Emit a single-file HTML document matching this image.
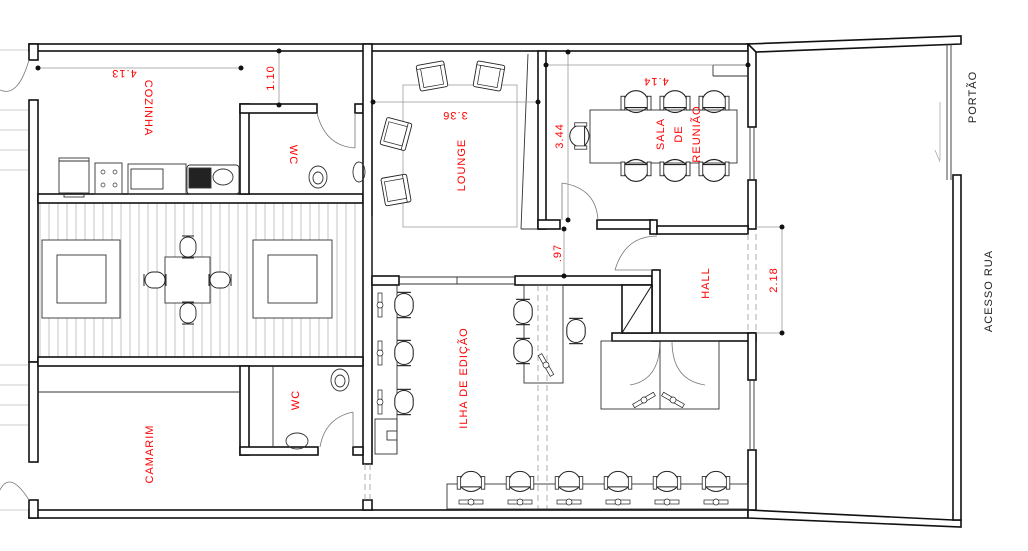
<!DOCTYPE html>
<html><head><meta charset="utf-8"><style>
html,body{margin:0;padding:0;background:#fff}
svg{display:block}
.r{fill:#f00;font-family:"Liberation Sans",sans-serif;font-size:11px;letter-spacing:1px}
.k{fill:#222;font-family:"Liberation Sans",sans-serif;font-size:11px;letter-spacing:1px}
</style></head><body>
<svg width="1028" height="551" viewBox="0 0 1028 551" xmlns="http://www.w3.org/2000/svg">
<defs>
<pattern id="st" width="9" height="10" patternUnits="userSpaceOnUse"><line x1="4" y1="0" x2="4" y2="10" stroke="#c4c4c4" stroke-width="1"/></pattern>
<g id="ch"><rect x="-8" y="-10" width="16" height="20" rx="8" fill="#fff" stroke="#222" stroke-width="0.9"/><line x1="-6" y1="-11" x2="6" y2="-11" stroke="#222"/><line x1="-6" y1="11" x2="6" y2="11" stroke="#222"/></g>
<g id="ch2"><path d="M-10,6 C-12,-12 12,-12 10,6 Z" fill="#fff" stroke="#222" stroke-width="0.9"/><rect x="-12" y="-3" width="3" height="11" fill="#fff" stroke="#222" stroke-width="0.7"/><rect x="9" y="-3" width="3" height="11" fill="#fff" stroke="#222" stroke-width="0.7"/><path d="M-9,6 Q0,14 9,6" fill="none" stroke="#222" stroke-width="0.9"/></g>
<g id="arm"><rect x="-14" y="-13" width="28" height="26" rx="2" fill="#fff" stroke="#222" stroke-width="0.9"/><rect x="-10" y="-9" width="20" height="19" fill="none" stroke="#222" stroke-width="0.7"/><line x1="-14" y1="-9" x2="14" y2="-9" stroke="#222" stroke-width="0.7"/></g>
<g id="mn"><rect x="-12" y="-2" width="24" height="4" fill="#fff" stroke="#222" stroke-width="0.7"/><circle cx="0" cy="0" r="3" fill="#fff" stroke="#222" stroke-width="0.7"/></g>
</defs>

<g stroke="#ccc" stroke-width="1">
<line x1="0" y1="50" x2="28" y2="50"/><line x1="0" y1="110" x2="28" y2="110"/><line x1="0" y1="130" x2="28" y2="130"/><line x1="0" y1="150" x2="28" y2="150"/><line x1="0" y1="170" x2="28" y2="170"/>
<line x1="0" y1="365" x2="28" y2="365"/><line x1="0" y1="385" x2="28" y2="385"/><line x1="0" y1="405" x2="28" y2="405"/><line x1="0" y1="425" x2="28" y2="425"/><line x1="0" y1="510" x2="28" y2="510"/>
</g>

<rect x="29" y="203" width="334" height="154" fill="url(#st)"/>

<g fill="#fff" stroke="#111" stroke-width="1.6">
<rect x="29" y="44" width="719" height="7"/>
<rect x="29" y="510" width="719" height="8"/>
<rect x="29" y="44" width="9" height="16"/>
<rect x="29" y="100" width="9" height="262"/>
<rect x="29" y="362" width="9" height="100"/>
<rect x="29" y="500" width="9" height="18"/>
<rect x="38" y="194" width="325" height="9"/>
<rect x="240" y="104" width="9" height="90"/>
<rect x="240" y="104" width="77" height="9"/>
<rect x="355" y="104" width="8" height="9"/>
<rect x="363" y="44" width="9" height="420"/>
<rect x="363" y="500" width="9" height="10"/>
<rect x="38" y="357" width="325" height="9"/>
<rect x="240" y="366" width="9" height="89"/>
<rect x="240" y="447" width="78" height="8"/>
<rect x="353" y="447" width="10" height="8"/>
<rect x="372" y="276" width="27" height="9"/>
<rect x="515" y="276" width="137" height="9"/>
<rect x="538" y="51" width="8" height="178"/>
<rect x="538" y="220" width="22" height="9"/>
<rect x="597" y="220" width="55" height="9"/>
<rect x="650" y="220" width="7" height="14"/>
<rect x="748" y="44" width="8" height="83"/>
<rect x="748" y="180" width="8" height="49"/>
<rect x="657" y="226" width="91" height="8"/>
<rect x="652" y="270" width="8" height="71"/>
<rect x="612" y="333" width="144" height="8"/>
<rect x="748" y="333" width="8" height="47"/>
<rect x="748" y="450" width="8" height="60"/>
<rect x="622" y="285" width="30" height="48"/>
<polygon points="748,44 961,36 961,44 756,52"/>
<polygon points="748,510 953,520 961,520 961,527 748,518"/>
<rect x="953" y="175" width="8" height="345"/>
</g>
<line x1="622" y1="333" x2="652" y2="285" stroke="#111" stroke-width="1"/>
<line x1="748" y1="44" x2="756" y2="52" stroke="#111" stroke-width="1"/>

<g stroke="#333" stroke-width="0.9" fill="none">
<line x1="399" y1="277" x2="515" y2="277"/><line x1="399" y1="284" x2="515" y2="284"/><line x1="457" y1="277" x2="457" y2="284"/>
<line x1="750" y1="127" x2="750" y2="180"/><line x1="754" y1="127" x2="754" y2="180"/>
<line x1="750" y1="380" x2="750" y2="450"/><line x1="754" y1="380" x2="754" y2="450"/>
<line x1="947" y1="44" x2="947" y2="180"/><line x1="951" y1="44" x2="951" y2="180"/>
<line x1="528" y1="54" x2="521" y2="229"/><line x1="521" y1="229" x2="538" y2="229"/>
<line x1="372" y1="216" x2="372" y2="276"/>
</g>
<g stroke="#999" stroke-width="0.8" fill="none" stroke-dasharray="6,4">
<line x1="748" y1="234" x2="748" y2="333"/><line x1="756" y1="234" x2="756" y2="333"/>
<line x1="365" y1="464" x2="365" y2="500"/><line x1="370" y1="464" x2="370" y2="500"/>
<line x1="538" y1="285" x2="538" y2="509"/><line x1="547" y1="285" x2="547" y2="509"/>
</g>
<g stroke="#aaa" stroke-width="0.8" fill="none">
<line x1="940" y1="102" x2="940" y2="160"/><line x1="935" y1="150" x2="940" y2="162"/>
</g>

<g stroke="#777" stroke-width="0.8" fill="none">
<path d="M29,60 Q18,98 0,90"/><path d="M29,500 Q10,470 0,490"/>
<path d="M317,113 Q325,146 355,148"/><line x1="355" y1="113" x2="355" y2="148"/>
<path d="M320,447 Q325,418 353,412"/><line x1="353" y1="412" x2="353" y2="447"/>
<path d="M598,220 Q596,188 562,183"/><line x1="562" y1="183" x2="562" y2="220"/>
<path d="M657,236 Q625,236 615,270"/><line x1="615" y1="270" x2="652" y2="270"/>
<path d="M660,341 Q660,380 630,385"/><path d="M672,341 Q672,380 705,385"/>
</g>

<g fill="none" stroke="#333" stroke-width="0.9">
<rect x="42" y="240" width="78" height="78" fill="#fff"/><rect x="57" y="255" width="49" height="48"/>
<rect x="253" y="240" width="79" height="78" fill="#fff"/><rect x="268" y="255" width="49" height="48"/>
<rect x="165" y="257" width="45" height="46" fill="#fff"/>
<rect x="403" y="85" width="114" height="142" stroke="#aaa"/>
<rect x="590" y="110" width="147" height="53" fill="#fff"/>
<rect x="524" y="285" width="39" height="98"/>
<rect x="601" y="341" width="118" height="68"/><line x1="660" y1="341" x2="660" y2="409"/>
<rect x="447" y="484" width="301" height="25"/>
<line x1="397" y1="285" x2="397" y2="454"/><rect x="375" y="419" width="22" height="35"/><rect x="387" y="431" width="10" height="9"/>
<rect x="59" y="158" width="30" height="35"/><rect x="64" y="193" width="20" height="4"/><line x1="59" y1="161" x2="89" y2="161"/>
<rect x="95" y="163" width="27" height="31"/>
<rect x="128" y="164" width="58" height="30"/><rect x="131" y="169" width="32" height="20"/>
<rect x="187" y="165" width="52" height="29" rx="3"/><rect x="189" y="168" width="22" height="20" fill="#222"/><ellipse cx="223" cy="177" rx="10" ry="8"/>
<line x1="713" y1="65" x2="748" y2="65"/><line x1="713" y1="65" x2="713" y2="76"/><line x1="713" y1="76" x2="748" y2="76"/>
<line x1="38" y1="392" x2="240" y2="392"/><line x1="273" y1="366" x2="273" y2="447"/>
<ellipse cx="318" cy="177" rx="9" ry="11"/><ellipse cx="318" cy="178" rx="5" ry="6"/>
<ellipse cx="359" cy="172" rx="6" ry="10"/>
<ellipse cx="340" cy="380" rx="9" ry="11"/><ellipse cx="340" cy="381" rx="5" ry="6"/>
<ellipse cx="297" cy="441" rx="11" ry="8"/>
</g>
<g fill="#fff" stroke="#333" stroke-width="0.7">
<circle cx="103" cy="172" r="2"/><circle cx="115" cy="172" r="2"/><circle cx="103" cy="185" r="2"/><circle cx="115" cy="185" r="2"/>
</g>

<use href="#ch" x="188" y="247"/><use href="#ch" x="188" y="313"/>
<use href="#ch" transform="translate(155,280) rotate(90)"/><use href="#ch" transform="translate(220,280) rotate(90)"/>
<use href="#arm" transform="translate(432,76) rotate(-10)"/><use href="#arm" transform="translate(489,76) rotate(10)"/>
<use href="#arm" transform="translate(396,134) rotate(105)"/><use href="#arm" transform="translate(396,190) rotate(80)"/>
<use href="#ch2" transform="translate(636,100) scale(1.25)"/><use href="#ch2" transform="translate(675,100) scale(1.25)"/><use href="#ch2" transform="translate(714,100) scale(1.25)"/>
<use href="#ch2" transform="translate(636,172) rotate(180) scale(1.25)"/><use href="#ch2" transform="translate(675,172) rotate(180) scale(1.25)"/><use href="#ch2" transform="translate(714,172) rotate(180) scale(1.25)"/>
<use href="#ch2" transform="translate(578,136) rotate(-90) scale(1.1)"/>
<use href="#ch" transform="translate(404,305) scale(1.15)"/><use href="#ch" transform="translate(404,353) scale(1.15)"/><use href="#ch" transform="translate(404,402) scale(1.15)"/>
<use href="#ch" transform="translate(523,312) scale(1.15)"/><use href="#ch" transform="translate(523,351) scale(1.15)"/><use href="#ch" transform="translate(576,331) scale(1.15)"/>
<use href="#ch2" transform="translate(471,480) scale(1.15)"/><use href="#ch2" transform="translate(520,480) scale(1.15)"/><use href="#ch2" transform="translate(569,480) scale(1.15)"/><use href="#ch2" transform="translate(618,480) scale(1.15)"/><use href="#ch2" transform="translate(667,480) scale(1.15)"/><use href="#ch2" transform="translate(716,480) scale(1.15)"/>
<use href="#mn" x="471" y="502"/><use href="#mn" x="520" y="502"/><use href="#mn" x="569" y="502"/><use href="#mn" x="618" y="502"/><use href="#mn" x="667" y="502"/><use href="#mn" x="716" y="502"/>
<use href="#mn" transform="translate(380,305) rotate(90)"/><use href="#mn" transform="translate(380,353) rotate(90)"/><use href="#mn" transform="translate(380,402) rotate(90)"/>
<use href="#mn" transform="translate(546,365) rotate(60)"/><use href="#mn" transform="translate(644,400) rotate(-30)"/><use href="#mn" transform="translate(673,400) rotate(30)"/>

<g stroke="#999" stroke-width="0.8">
<line x1="38" y1="68" x2="241" y2="68"/><line x1="279" y1="51" x2="279" y2="105"/>
<line x1="372" y1="102" x2="538" y2="102"/>
<line x1="546" y1="65" x2="748" y2="65"/><line x1="568" y1="52" x2="568" y2="220"/>
<line x1="564" y1="229" x2="564" y2="276"/>
<line x1="756" y1="227" x2="782" y2="227"/><line x1="756" y1="333" x2="782" y2="333"/><line x1="782" y1="227" x2="782" y2="333"/>
</g>
<g fill="#111">
<circle cx="38" cy="68" r="2.5"/><circle cx="241" cy="68" r="2.5"/><circle cx="279" cy="51" r="2.5"/><circle cx="279" cy="105" r="2.5"/>
<circle cx="373" cy="102" r="2.5"/><circle cx="538" cy="102" r="2.5"/><circle cx="546" cy="65" r="2.5"/><circle cx="748" cy="65" r="2.5"/>
<circle cx="568" cy="52" r="2.5"/><circle cx="568" cy="220" r="2.5"/><circle cx="564" cy="229" r="2.5"/><circle cx="564" cy="276" r="2.5"/>
<circle cx="782" cy="227" r="2.5"/><circle cx="782" cy="333" r="2.5"/>
</g>

<text class="r" transform="translate(124,70) rotate(180)" text-anchor="middle">4.13</text>
<text class="r" transform="translate(145,108) rotate(90)" text-anchor="middle">COZINHA</text>
<text class="r" transform="translate(274,78) rotate(-90)" text-anchor="middle">1.10</text>
<text class="r" transform="translate(290,155) rotate(90)" text-anchor="middle">WC</text>
<text class="r" transform="translate(455,112) rotate(180)" text-anchor="middle">3.36</text>
<text class="r" transform="translate(465,165) rotate(-90)" text-anchor="middle">LOUNGE</text>
<text class="r" transform="translate(656,78) rotate(180)" text-anchor="middle">4.14</text>
<text class="r" transform="translate(563,136) rotate(-90)" text-anchor="middle">3.44</text>
<text class="r" transform="translate(664,134) rotate(-90)" text-anchor="middle">SALA</text>
<text class="r" transform="translate(682,134) rotate(-90)" text-anchor="middle">DE</text>
<text class="r" transform="translate(700,134) rotate(-90)" text-anchor="middle">REUNIÃO</text>
<text class="r" transform="translate(561,253) rotate(-90)" text-anchor="middle">.97</text>
<text class="r" transform="translate(709,283) rotate(-90)" text-anchor="middle">HALL</text>
<text class="r" transform="translate(777,280) rotate(-90)" text-anchor="middle">2.18</text>
<text class="r" transform="translate(467,378) rotate(-90)" text-anchor="middle">ILHA DE EDIÇÃO</text>
<text class="r" transform="translate(299,400) rotate(-90)" text-anchor="middle">WC</text>
<text class="r" transform="translate(153,454) rotate(-90)" text-anchor="middle">CAMARIM</text>
<text class="k" transform="translate(976,97) rotate(-90)" text-anchor="middle">PORTÃO</text>
<text class="k" transform="translate(992,291) rotate(-90)" text-anchor="middle">ACESSO RUA</text>
</svg>
</body></html>
